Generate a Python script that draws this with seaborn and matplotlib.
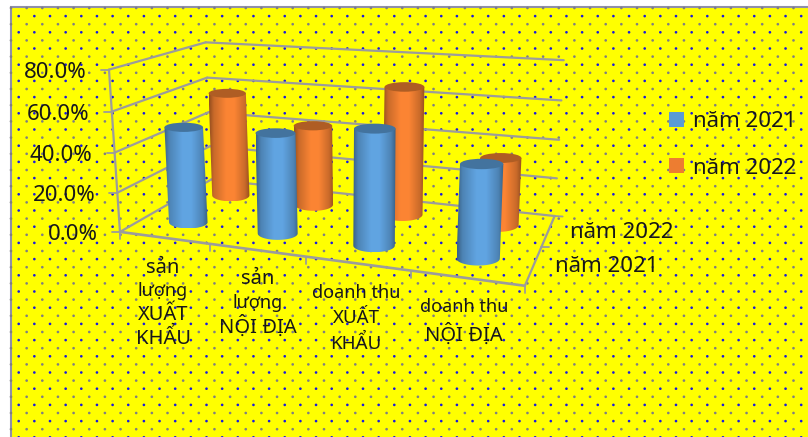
import numpy as np
import pandas as pd
import matplotlib
matplotlib.use("Agg")
import matplotlib.pyplot as plt
from matplotlib.colors import LinearSegmentedColormap
from matplotlib.patches import Ellipse, Patch, PathPatch, Rectangle
from matplotlib.path import Path
import seaborn as sns

# ---------- data ----------
categories = ["sản\nlượng\nXUẤT\nKHẨU", "sản\nlượng\nNỘI ĐỊA", "doanh thu\nXUẤT\nKHẨU", "doanh thu\nNỘI ĐỊA"]
series_names = ["năm 2021", "năm 2022"]
values_2021 = [49.0, 50.0, 56.0, 44.0]
values_2022 = [57.0, 43.0, 66.5, 34.5]
z_ticks = [0, 20, 40, 60, 80]

# ---------- style ----------
W, H = 808, 437
sns.set_theme(style="white")
plt.rcParams["font.family"] = ["Noto Sans", "DejaVu Sans"]
TEXT = "#17171a"
GRID = "#9c9c9c"
C_BLUE, C_ORANGE = "#5b9bd5", "#ed7d31"

fig = plt.figure(figsize=(W / 100, H / 100), dpi=100, facecolor="white")
ax = fig.add_axes([0, 0, 1, 1])
ax.set_axis_off()

# ---------- patterned background ----------
ax.add_patch(Rectangle((11, 7), W, H, fc="#ffff00", ec="#8f8fa8", lw=1.5, zorder=0))
rows = []
for r, y in enumerate(np.arange(8, H + 4, 8.1)):
    gray = r % 2 == 0
    for x in np.arange(11 if gray else 18.7, W, 15.65):
        rows.append((x, y, "g" if gray else "b"))
dots = pd.DataFrame(rows, columns=["x", "y", "kind"])
sns.scatterplot(data=dots, x="x", y="y", hue="kind", palette={"g": "#7e7e84", "b": "#1a1ae0"},
                marker="o", s=3.6, linewidth=0, legend=False, ax=ax, zorder=1)


# ---------- perspective camera of the 3D chart ----------
def fit_camera(world, image):
    rows_ = []
    for (a, b, c), (u, v) in zip(world, image):
        p = [a, b, c, 1]
        rows_.append(p + [0, 0, 0, 0] + [-u * q for q in p])
        rows_.append([0, 0, 0, 0] + p + [-v * q for q in p])
    return np.linalg.svd(np.array(rows_, float))[2][-1].reshape(3, 4)


CAM = fit_camera(
    [(0, 0, 0), (1, 0, 0), (2, 0, 0), (3, 0, 0), (4, 0, 0), (0, 0, 40), (0, 0, 80),
     (0, 1, 0), (0, 1, 60), (0, 1, 80), (4, 1, 0), (4, 1, 60), (4, 1, 80)],
    [(120, 232), (209, 244), (307, 257), (410, 271), (525, 286), (115, 151), (109, 70),
     (212, 180), (205, 78), (207, 42), (555, 215), (560, 100), (565, 61)],
)


def proj(x, d, z):
    h = CAM @ np.array([x, d, z, 1.0])
    return h[0] / h[2], h[1] / h[2]


def line3d(a, b, lw=1.6):
    pa, pb = proj(*a), proj(*b)
    ax.plot([pa[0], pb[0]], [pa[1], pb[1]], color=GRID, lw=lw, zorder=2, solid_capstyle="round")


def offset_line(p, dx, dy):
    ax.plot([p[0], p[0] + dx], [p[1], p[1] + dy], color=GRID, lw=1.3, zorder=2)


for z in z_ticks:
    line3d((0, 0, z), (0, 1, z))
    line3d((0, 1, z), (4, 1, z))
    p = proj(0, 0, z)
    offset_line(p, -8, 0)
    ax.text(p[0] - 22, p[1] + 3, f"{z:.1f}%", ha="right", va="center", fontsize=16, color=TEXT, zorder=6)
offset_line(proj(4, 1, 0), 8, 0.5)
line3d((0, 0, 0), (0, 0, 80))
line3d((0, 0, 0), (4, 0, 0), lw=1.9)
line3d((4, 0, 0), (4, 1, 0))
for i in range(5):
    offset_line(proj(i, 0, 0), 0, 7)
offset_line(proj(4, 0.5, 0), 8, 0)


# ---------- cylinders ----------
def shade(base):
    c = np.array(matplotlib.colors.to_rgb(base))
    dark, mid, light = c * 0.62, c * 0.85, np.clip(c * 1.06, 0, 1)
    stops = [(0, dark), (0.12, mid), (0.42, light), (0.62, light), (0.88, mid), (1, dark)]
    return LinearSegmentedColormap.from_list("s", stops, 256), c * 0.74


def cylinder(i, depth, value, base):
    cx, r = i + 0.5, 0.215
    bx, by = proj(cx, depth, 0)
    tx, ty = proj(cx, depth, value)
    rx = 10 + 0.5 * (proj(cx + r, depth, 0)[0] - proj(cx - r, depth, 0)[0]) / 2
    rt, rb = rx * 0.24, rx * 0.32
    t = np.linspace(np.pi, 0, 40)
    bottom = np.c_[bx + rx * np.cos(t), by + rb * np.sin(t)]
    verts = np.vstack([[tx - rx, ty], bottom, [tx + rx, ty], [tx - rx, ty]])
    codes = [Path.MOVETO] + [Path.LINETO] * (len(verts) - 2) + [Path.CLOSEPOLY]
    body = PathPatch(Path(verts, codes), fc="none", ec="none", transform=ax.transData)
    ax.add_patch(body)
    z = 3 + (1 - depth) + i * 0.01
    body.set_zorder(z)
    cmap, lid = shade(base)
    x0, x1 = min(tx, bx) - rx, max(tx, bx) + rx
    im = ax.imshow(np.linspace(0, 1, 256)[None, :], cmap=cmap, aspect="auto",
                   extent=[x0, x1, by + rb, ty], zorder=z, interpolation="bilinear")
    im.set_clip_path(body)
    ax.add_patch(Ellipse((tx, ty), 2 * rx, 2 * rt, fc=lid, ec="none", zorder=z + 0.001))


DEPTH_2021, DEPTH_2022 = 0.25, 0.75
for i, v in enumerate(values_2022):
    cylinder(i, DEPTH_2022, v, C_ORANGE)
for i, v in enumerate(values_2021):
    cylinder(i, DEPTH_2021, v, C_BLUE)

# ---------- category and depth labels ----------
label_pos = [(163, 303), (258, 303), (356, 318), (464, 321)]
label_size = [[14.5, 13, 14.5, 14.5], [14.5, 13, 14.5], [13, 13.5, 13.5], [13, 14.5]]
line_step = [23.5, 23.5, 25, 28]
for name, (x, y), sizes, step in zip(categories, label_pos, label_size, line_step):
    parts = name.split("\n")
    top = y - step * (len(parts) - 1) / 2
    for k, (s, fs) in enumerate(zip(parts, sizes)):
        ax.text(x, top + k * step, s, ha="center", va="center", fontsize=fs, color=TEXT, zorder=6)
ax.text(570, 232, series_names[1], ha="left", va="center", fontsize=16, color=TEXT, zorder=6)
ax.text(555, 266, series_names[0], ha="left", va="center", fontsize=16, color=TEXT, zorder=6)

# ---------- legend ----------
handles = [Patch(fc=C_BLUE, ec="none"), Patch(fc=C_ORANGE, ec="none")]
ax.legend(handles, series_names, loc="upper left", bbox_to_anchor=(649, 91), bbox_transform=ax.transData,
          frameon=False, fontsize=16, labelcolor=TEXT, handlelength=0.66, handleheight=0.66,
          handletextpad=0.42, labelspacing=1.16, borderpad=0.4)

ax.set_xlim(0, W)
ax.set_ylim(H, 0)
ax.set_xlabel("")
ax.set_ylabel("")
fig.savefig("out.png", dpi=100, facecolor="white")
